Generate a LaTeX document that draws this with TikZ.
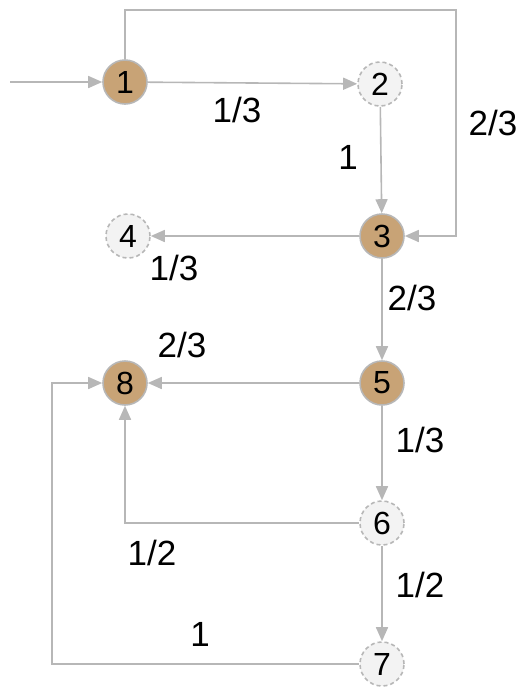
\documentclass[tikz,border=0pt]{standalone}
\usepackage{fontspec}
\setmainfont{Liberation Sans}
\usetikzlibrary{arrows.meta}
\definecolor{st}{RGB}{200,163,118}
\definecolor{ln}{RGB}{183,183,183}
\definecolor{pale}{RGB}{243,243,243}

\begin{document}
\begin{tikzpicture}[x=1pt,y=-1pt,
    state/.style={circle,draw=ln,line width=1.6pt,fill=st,minimum size=44pt,inner sep=0pt,font=\fontsize{32}{32}\selectfont},
    ghost/.style={state,fill=pale,dashed,dash pattern=on 4pt off 3pt},
    link/.style={draw=ln,line width=1.6pt,-{Triangle[length=14pt,width=12pt]}},
    prob/.style={font=\fontsize{35}{35}\selectfont}]
            \useasboundingbox (0,0) rectangle (525,691);
            \node[state] (s1) at (125,82) {1};
            \node[ghost] (s2) at (380,84) {2};
            \node[state] (s3) at (382,236) {3};
            \node[ghost] (s4) at (128,236) {4};
            \node[state] (s5) at (382,383) {5};
            \node[state] (s8) at (125,383) {8};
            \node[ghost] (s6) at (382,523) {6};
            \node[ghost] (s7) at (382,664) {7};
            \coordinate (in) at (10,82);
            \draw[link] (in) -- (s1);
            \draw[link] (s1) -- (s2);
            \draw[link] (s1.north) |- (456,10) |- (s3.east);
            \draw[link] (s2) -- (s3);
            \draw[link] (s3) -- (s4);
            \draw[link] (s3) -- (s5);
            \draw[link] (s5) -- (s8);
            \draw[link] (s5) -- (s6);
            \draw[link] (s6) -- (s7);
            \draw[link] (s6.west) -| (s8.south);
            \draw[link] (s7.west) -| (52,383) -- (s8.west);
            \node[prob] at (237,110) {1/3};
            \node[prob] at (493,123) {2/3};
            \node[prob] at (348,157) {1};
            \node[prob] at (174,268) {1/3};
            \node[prob] at (412,298) {2/3};
            \node[prob] at (182,345) {2/3};
            \node[prob] at (420,440) {1/3};
            \node[prob] at (152,553) {1/2};
            \node[prob] at (420,585) {1/2};
            \node[prob] at (200,634) {1};
        \end{tikzpicture}
\end{document}
